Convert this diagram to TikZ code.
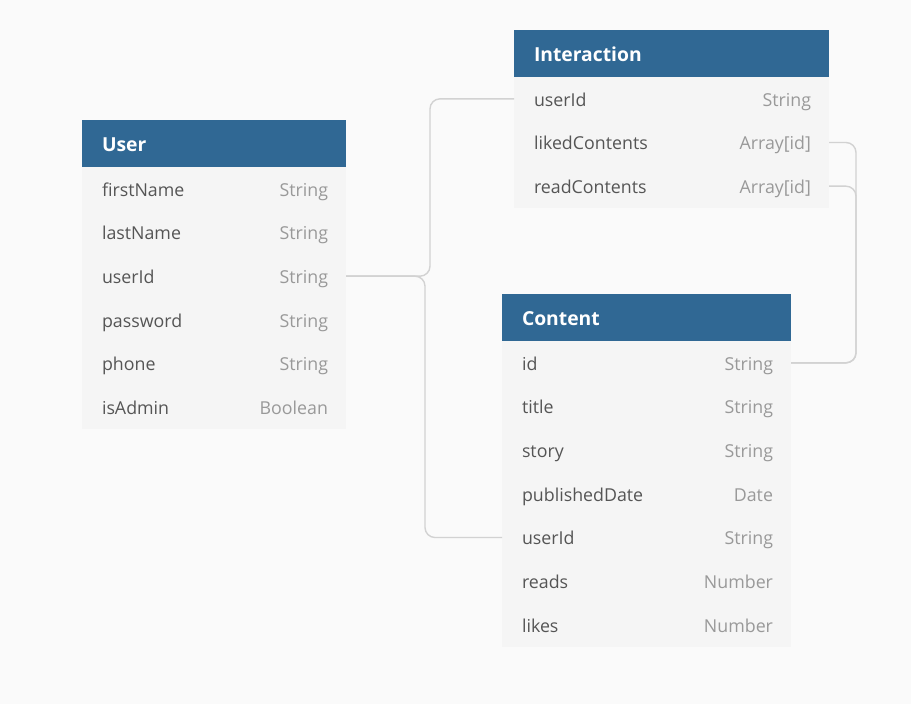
\documentclass[tikz,border=0pt]{standalone}
\usepackage{fontspec}
\setmainfont{Open Sans}
\usepackage{tikz}
\usetikzlibrary{positioning}
\definecolor{headblue}{HTML}{306894}
\definecolor{rowgray}{HTML}{F5F5F5}
\definecolor{pagegray}{HTML}{FAFAFA}
\definecolor{namegray}{HTML}{555555}
\definecolor{typegray}{HTML}{999999}
\definecolor{linkgray}{HTML}{D2D2D2}

\begin{document}
\begin{tikzpicture}[x=1pt,y=-1pt]
    \tikzstyle{every node}=[font=\fontsize{17.8}{21}\selectfont, inner sep=0pt, outer sep=0pt]
    \tikzstyle{head} = [rectangle, fill=headblue, anchor=north west, minimum height=47pt]
    \tikzstyle{headtext} = [anchor=base west, text=white, font=\fontsize{19.3}{23}\selectfont\bfseries]
    \tikzstyle{row} = [rectangle, fill=rowgray, anchor=north west, minimum height=43.67pt]
    \tikzstyle{fname} = [anchor=base west, text=namegray]
    \tikzstyle{ftype} = [anchor=base east, text=typegray]
    \tikzstyle{link} = [draw=linkgray, line width=1.4pt, rounded corners=10pt]

    \fill[pagegray] (0,0) rectangle (911,704);
    \useasboundingbox (0,0) rectangle (911,704);

    % User
    \node[head, minimum width=264pt](user) at (82,120) {};
    \node[headtext] at ([xshift=20pt,yshift=-7.7pt]user.west) {User};
    \foreach \i/\n/\t in {1/firstName/String, 2/lastName/String, 3/userId/String,
                          4/password/String, 5/phone/String, 6/isAdmin/Boolean}{
        \node[row, minimum width=264pt](user-\i) at (82,{167+(\i-1)*43.67}) {};
        \node[fname] at ([xshift=20pt,yshift=-7.2pt]user-\i.west) {\n};
        \node[ftype] at ([xshift=-18pt,yshift=-7.2pt]user-\i.east) {\t};
    }

    % Interaction
    \node[head, minimum width=315pt](inter) at (514,30) {};
    \node[headtext] at ([xshift=20pt,yshift=-7.7pt]inter.west) {Interaction};
    \foreach \i/\n/\t in {1/userId/String, 2/likedContents/Array[id], 3/readContents/Array[id]}{
        \node[row, minimum width=315pt](inter-\i) at (514,{77+(\i-1)*43.67}) {};
        \node[fname] at ([xshift=20pt,yshift=-7.2pt]inter-\i.west) {\n};
        \node[ftype] at ([xshift=-18pt,yshift=-7.2pt]inter-\i.east) {\t};
    }

    % Content
    \node[head, minimum width=289pt](cont) at (502,294) {};
    \node[headtext] at ([xshift=20pt,yshift=-7.7pt]cont.west) {Content};
    \foreach \i/\n/\t in {1/id/String, 2/title/String, 3/story/String, 4/publishedDate/Date,
                          5/userId/String, 6/reads/Number, 7/likes/Number}{
        \node[row, minimum width=289pt](cont-\i) at (502,{341+(\i-1)*43.67}) {};
        \node[fname] at ([xshift=20pt,yshift=-7.2pt]cont-\i.west) {\n};
        \node[ftype] at ([xshift=-18pt,yshift=-7.2pt]cont-\i.east) {\t};
    }

    % relations
    \draw[link] (user-3.east) -- ++(84,0) |- (inter-1.west);
    \draw[link] (user-3.east) -- ++(79,0) |- (cont-5.west);
    \draw[link] (inter-2.east) -- ++(27,0) |- (cont-1.east);
    \draw[link] (inter-3.east) -- ++(27,0) |- (cont-1.east);
\end{tikzpicture}
\end{document}
